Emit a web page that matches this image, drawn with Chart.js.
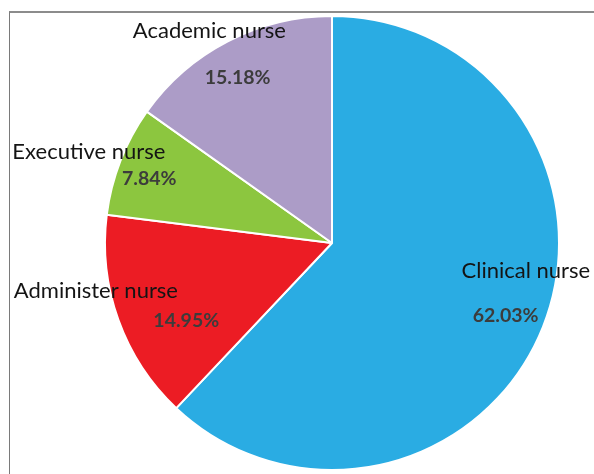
<!DOCTYPE html>
<html>
<head>
<meta charset="utf-8">
<script src="https://cdn.jsdelivr.net/npm/chart.js@4/dist/chart.umd.min.js"></script>
<style>
  body { margin: 0; background: #fff; }
  #wrap { position: relative; width: 594px; height: 474px; }
  #frame {
    position: absolute; left: 9px; top: 11px; right: -5px; bottom: -5px;
    border-top: 2px solid #8c8c8c; border-left: 1px solid #7a7a7a;
  }
  canvas { position: absolute; left: 0; top: 0; }
</style>
</head>
<body>
<div id="wrap">
  <div id="frame"></div>
  <canvas id="pie" width="594" height="474"></canvas>
</div>
<script>
// data
var categories = ["Clinical nurse", "Administer nurse", "Executive nurse", "Academic nurse"];
var shares = [62.03, 14.95, 7.84, 15.18];
var sliceColors = ["#2aace3", "#ec1c24", "#8cc63f", "#ac9cc7"];

// where each label sits, relative to pie centre, in units of radius
var labelSpots = [
  { name: [0.854, 0.124], pct: [0.765, 0.319] },
  { name: [-1.04, 0.212], pct: [-0.642, 0.341] },
  { name: [-1.071, -0.403], pct: [-0.805, -0.283] },
  { name: [-0.54, -0.933], pct: [-0.416, -0.726] }
];

var pieLabels = {
  id: "pieLabels",
  afterDatasetsDraw: function(chart) {
    var ctx = chart.ctx;
    var arcs = chart.getDatasetMeta(0).data;
    ctx.save();
    ctx.textAlign = "center";
    ctx.textBaseline = "middle";
    arcs.forEach(function(arc, i) {
      var r = arc.outerRadius;
      var spot = labelSpots[i];
      ctx.font = "22px Lato, 'Open Sans', sans-serif";
      ctx.fillStyle = "#141414";
      ctx.fillText(categories[i], arc.x + spot.name[0] * r, arc.y + spot.name[1] * r);
      ctx.font = "bold 19.5px Lato, 'Open Sans', sans-serif";
      ctx.fillStyle = "#3c3c3c";
      ctx.fillText(shares[i].toFixed(2) + "%", arc.x + spot.pct[0] * r, arc.y + spot.pct[1] * r);
    });
    ctx.restore();
  }
};

new Chart(document.getElementById("pie"), {
  type: "pie",
  data: {
    labels: categories,
    datasets: [{
      data: shares,
      backgroundColor: sliceColors,
      borderColor: "#ffffff",
      borderWidth: 2
    }]
  },
  options: {
    responsive: false,
    animation: false,
    layout: { padding: { left: 104, right: 34, top: 15, bottom: 3 } },
    plugins: {
      legend: { display: false },
      tooltip: { enabled: false }
    }
  },
  plugins: [pieLabels]
});
</script>
</body>
</html>
